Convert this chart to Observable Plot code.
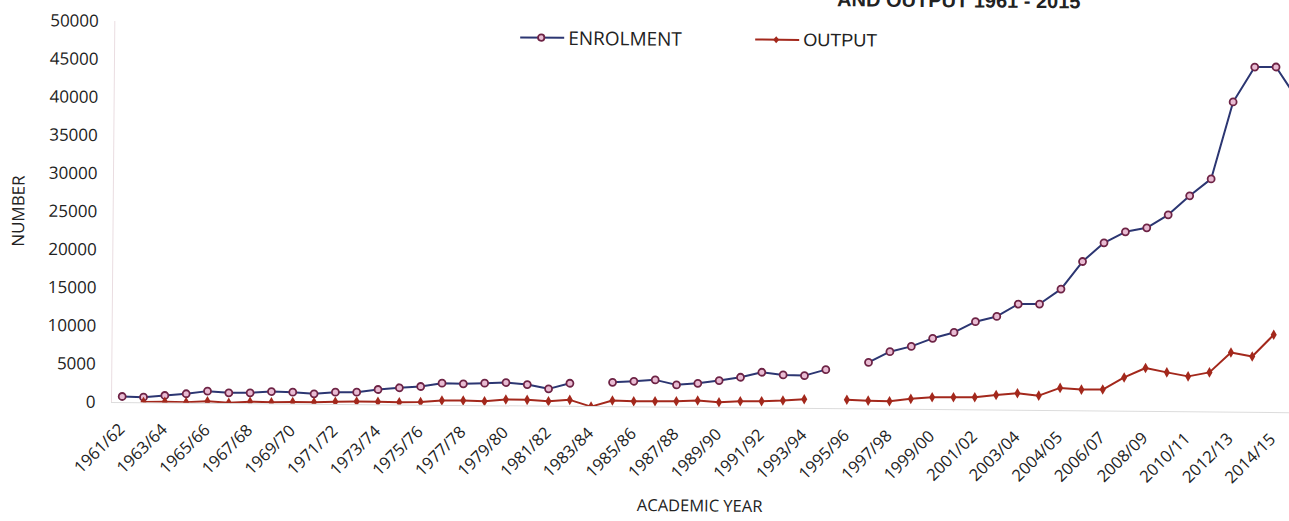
<!DOCTYPE html>
<html>
<head>
<meta charset="utf-8">
<script src="https://cdn.jsdelivr.net/npm/d3@7"></script>
<script src="https://cdn.jsdelivr.net/npm/@observablehq/plot@0.6"></script>
<style>
  html, body { margin: 0; padding: 0; background: #fff; overflow: hidden; }
  #wrap { position: relative; width: 1289px; height: 521px; transform: rotate(0.5deg); transform-origin: 122px 402px; }
  #title { position: absolute; right: 212px; top: -17px; font: bold 20px/20px "Liberation Sans", sans-serif; color: #222; white-space: nowrap; }
  .leg { position: absolute; top: 22px; height: 24px; display: flex; align-items: center; color: #222; white-space: nowrap; }
  .leg svg { display: block; margin-right: 3px; }
  #chart { position: absolute; left: 0; top: 0; }
</style>
</head>
<body>
<div id="wrap">
  <div id="chart"></div>
  <div id="title">AND OUTPUT 1961 - 2015</div>
  <div class="leg" id="legE" style="left:516px;font:19px 'Open Sans',sans-serif;">
    <svg width="46" height="12"><line x1="1" y1="6" x2="45" y2="6" stroke="#2c3672" stroke-width="2"/><circle cx="22" cy="6" r="3.2" fill="#e9bcd3" stroke="#6e2446" stroke-width="1.8"/></svg>ENROLMENT</div>
  <div class="leg" id="legO" style="left:751px;font:18px 'Liberation Sans',sans-serif;">
    <svg width="46" height="12"><line x1="1" y1="6" x2="45" y2="6" stroke="#a3281c" stroke-width="2"/><path d="M22,2.5L25,6L22,9.5L19,6Z" fill="#a3281c"/></svg>OUTPUT</div>
</div>
<script>
// Academic years (one per category; tick labels shown on every other one)
const categories = [
  "1961/62","1962/63","1963/64","1964/65","1965/66","1966/67","1967/68","1968/69","1969/70","1970/71",
  "1971/72","1972/73","1973/74","1974/75","1975/76","1976/77","1977/78","1978/79","1979/80","1980/81",
  "1981/82","1982/83","1983/84","1984/85","1985/86","1986/87","1987/88","1988/89","1989/90","1990/91",
  "1991/92","1992/93","1993/94","1994/95","1995/96","1996/97","1997/98","1998/99","1999/00","2000/01",
  "2001/02","2002/03","2003/04","2003/04","2004/05","2005/06","2006/07","2007/08","2008/09","2009/10",
  "2010/11","2011/12","2012/13","2013/14","2014/15","2015/16"
];
const enrolment = [
  790, 720, 970, 1220, 1590, 1390, 1420, 1610, 1550, 1360,
  1600, 1620, 2000, 2250, 2440, 2900, 2840, 2950, 3060, 2820,
  2280, 3040, null, 3210, 3370, 3580, 2950, 3180, 3560, 4020,
  4700, 4380, 4310, 5120, null, 6120, 7550, 8270, 9350, 10150,
  11580, 12300, 13940, 13970, 15960, 19600, 22080, 23550, 24100, 25830,
  28350, 30590, 40710, 45320, 45350, 41200
];
const output = [
  null, 100, 150, 100, 250, 100, 250, 200, 250, 250,
  350, 400, 400, 350, 400, 630, 650, 590, 840, 810,
  660, 860, 0, 820, 750, 780, 800, 920, 720, 870,
  900, 1010, 1200, null, 1180, 1100, 1040, 1380, 1610, 1640,
  1660, 1990, 2230, 1950, 2990, 2790, 2820, 4440, 5700, 5150,
  4650, 5200, 7840, 7340, 10210, null
];
const yTicks = [0, 5000, 10000, 15000, 20000, 25000, 30000, 35000, 40000, 45000, 50000];
const xTickIdx = categories.map((c, i) => i).filter(i => i % 2 === 0 && i <= 54);

const enrolRows = categories.map((c, i) => ({i, v: enrolment[i]}));
const outRows = categories.map((c, i) => ({i, v: output[i]}));

const chart = Plot.plot({
  width: 1289, height: 521,
  marginLeft: 111, marginRight: 0, marginTop: 21, marginBottom: 119,
  x: {type: "linear", domain: [-0.5, 54.77]},
  y: {domain: [0, 50000]},
  style: {fontFamily: "'Open Sans', sans-serif", color: "#222", background: "transparent", overflow: "visible"},
  marks: [
    Plot.frame({anchor: "left", stroke: "#eadde1"}),
    Plot.ruleY([0], {stroke: "#dcdcdc"}),
    Plot.axisY({ticks: yTicks, tickFormat: d3.format("d"), tickSize: 0, tickPadding: 16, fontSize: 17,
      label: "NUMBER", labelAnchor: "center", labelOffset: 101, labelArrow: "none"}),
    Plot.axisX({ticks: xTickIdx, tickFormat: i => categories[i], tickSize: 0, tickRotate: -45, tickPadding: 24, fontSize: 16.5,
      label: "ACADEMIC YEAR", labelAnchor: "center", labelOffset: 104, labelArrow: "none"}),
    Plot.line(enrolRows, {x: "i", y: "v", stroke: "#2c3672", strokeWidth: 2, clip: true}),
    Plot.line(outRows, {x: "i", y: "v", stroke: "#a3281c", strokeWidth: 2, clip: true}),
    Plot.dot(enrolRows, {x: "i", y: "v", r: 3.5, stroke: "#6e2446", strokeWidth: 1.8, fill: "#e9bcd3", clip: true}),
    Plot.dot(outRows, {x: "i", y: "v", symbol: "diamond", r: 3.2, fill: "#a3281c", clip: true})
  ]
});
document.getElementById("chart").appendChild(chart);
</script>
</body>
</html>
